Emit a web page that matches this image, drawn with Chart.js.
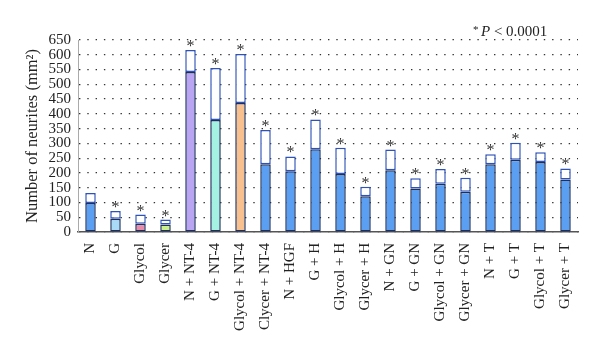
<!DOCTYPE html>
<html>
<head>
<meta charset="utf-8">
<script src="https://cdn.jsdelivr.net/npm/chart.js@4.4.0/dist/chart.umd.min.js"></script>
<style>
  html, body { margin: 0; padding: 0; background: #fff; }
  #wrap { width: 600px; height: 352px; }
</style>
</head>
<body>
<div id="wrap"><canvas id="chart" width="600" height="352"></canvas></div>
<script>
// groups on the x axis
const categories = ['N', 'G', 'Glycol', 'Glycer', 'N + NT-4', 'G + NT-4', 'Glycol + NT-4', 'Clycer + NT-4',
  'N + HGF', 'G + H', 'Glycol + H', 'Glycer + H', 'N + GN', 'G + GN', 'Glycol + GN', 'Glycer + GN',
  'N + T', 'G + T', 'Glycol + T', 'Glycer + T'];

// mean (filled part) and mean + SD (top of the hollow box)
const meanValues = [98, 45, 28, 25, 542, 379, 437, 229, 206, 280, 196, 121, 209, 147, 163, 136, 229, 245, 237, 178];
const topValues = [132, 71, 59, 42, 616, 555, 603, 345, 256, 381, 285, 153, 279, 182, 213, 184, 263, 302, 270, 215];

// significance marks (* P < 0.0001)
const significant = [false, true, true, true, true, true, true, true, true, true, true, true, true, true, true, true, true, true, true, true];

const yTicks = [0, 50, 100, 150, 200, 250, 300, 350, 400, 450, 500, 550, 600, 650];

const fillColors = ['#5a9ff2', '#a9dbf8', '#e98bab', '#c9f08a', '#b9a5f2', '#a4f2e2', '#f9c08f',
  '#5a9ff2', '#5a9ff2', '#5a9ff2', '#5a9ff2', '#5a9ff2', '#5a9ff2', '#5a9ff2', '#5a9ff2', '#5a9ff2',
  '#5a9ff2', '#5a9ff2', '#5a9ff2', '#5a9ff2'];

const serif = '"Liberation Serif", "DejaVu Serif", serif';

const starPlugin = {
  id: 'stars',
  afterDatasetsDraw(chart) {
    const ctx = chart.ctx;
    const meta = chart.getDatasetMeta(1);
    ctx.save();
    ctx.fillStyle = '#333';
    ctx.font = '16px ' + serif;
    ctx.textAlign = 'center';
    ctx.textBaseline = 'alphabetic';
    meta.data.forEach((bar, i) => {
      if (!significant[i]) return;
      ctx.fillText('*', bar.x, bar.y + 1);
    });
    // note in the top right corner
    ctx.font = '11px ' + serif;
    ctx.textAlign = 'left';
    ctx.fillStyle = '#222';
    ctx.fillText('*', 473, 33);
    ctx.font = 'italic 15px ' + serif;
    ctx.fillText('P', 481, 36);
    const pw = ctx.measureText('P').width;
    ctx.font = '15px ' + serif;
    ctx.fillText(' < 0.0001', 481 + pw, 36);
    ctx.restore();
  }
};

new Chart(document.getElementById('chart'), {
  type: 'bar',
  data: {
    labels: categories,
    datasets: [
      {
        label: 'Mean',
        data: meanValues,
        backgroundColor: fillColors,
        borderColor: '#1c2f5e',
        borderWidth: 1.5,
        borderSkipped: false
      },
      {
        label: 'SD',
        data: topValues.map((t, i) => t - meanValues[i]),
        backgroundColor: '#ffffff',
        borderColor: '#2e52b8',
        borderWidth: 1.5,
        borderSkipped: false
      }
    ]
  },
  options: {
    responsive: false,
    animation: false,
    devicePixelRatio: 1,
    layout: { padding: { left: 19, right: 22, top: 40, bottom: 0 } },
    plugins: {
      legend: { display: false },
      tooltip: { enabled: false }
    },
    datasets: {
      bar: { barPercentage: 0.42, categoryPercentage: 1.0 }
    },
    scales: {
      x: {
        stacked: true,
        grid: { display: false, drawTicks: false },
        border: { display: true, color: '#555', width: 1.5 },
        ticks: {
          autoSkip: false,
          maxRotation: 90,
          minRotation: 90,
          padding: 11,
          color: '#222',
          font: { family: serif, size: 15 }
        },
        afterFit(scale) { scale.height = 120; }
      },
      y: {
        stacked: true,
        min: 0,
        max: 650,
        afterBuildTicks(scale) { scale.ticks = yTicks.map(v => ({ value: v })); },
        grid: { color: '#333', lineWidth: 1.2, drawTicks: false },
        border: { display: true, color: '#aaa', width: 1, dash: [1.4, 6.9] },
        ticks: {
          autoSkip: false,
          padding: 7,
          color: '#222',
          font: { family: serif, size: 15 }
        },
        title: {
          display: true,
          text: 'Number of neurites (mm²)',
          color: '#222',
          font: { family: serif, size: 16.5 },
          padding: { top: 4, bottom: 0 }
        },
        afterFit(scale) { scale.width = 59; }
      }
    }
  },
  plugins: [starPlugin]
});
</script>
</body>
</html>
